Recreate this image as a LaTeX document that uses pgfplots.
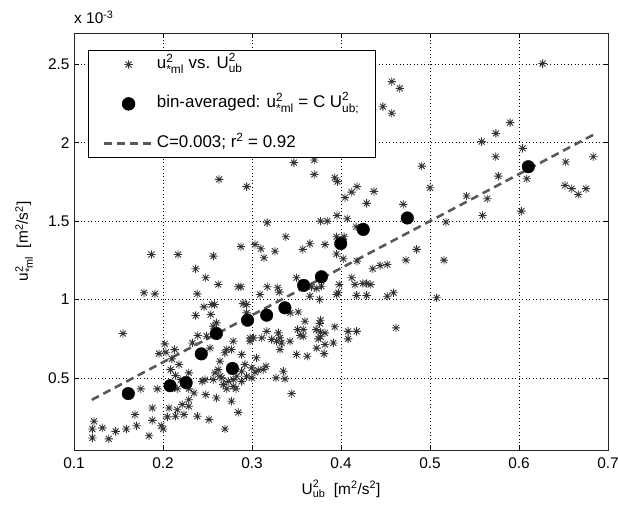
\documentclass[border=0pt]{standalone}
\usepackage{fontspec}
\setmainfont{Liberation Sans}
\usepackage{amsmath}
\usepackage{pgfplots}
\pgfplotsset{compat=1.18}

\pgfdeclareplotmark{ast8}{%
  \pgfpathmoveto{\pgfqpoint{-\pgfplotmarksize}{0pt}}\pgfpathlineto{\pgfqpoint{\pgfplotmarksize}{0pt}}%
  \pgfpathmoveto{\pgfqpoint{0pt}{-\pgfplotmarksize}}\pgfpathlineto{\pgfqpoint{0pt}{\pgfplotmarksize}}%
  \pgfpathmoveto{\pgfqpoint{-.7071\pgfplotmarksize}{-.7071\pgfplotmarksize}}\pgfpathlineto{\pgfqpoint{.7071\pgfplotmarksize}{.7071\pgfplotmarksize}}%
  \pgfpathmoveto{\pgfqpoint{-.7071\pgfplotmarksize}{.7071\pgfplotmarksize}}\pgfpathlineto{\pgfqpoint{.7071\pgfplotmarksize}{-.7071\pgfplotmarksize}}%
  \pgfusepathqstroke}

\pgfplotsset{
  marklegend/.style={legend image code/.code={\draw[##1, mark repeat=2, mark phase=2] plot coordinates {(0bp,0bp) (25bp,0bp) (50bp,0bp)};}},
  linelegend/.style={legend image code/.code={\draw[##1] (0bp,0bp) -- (50bp,0bp);}},
}

\newcommand{\fs}{\fontsize{15.5}{18}\selectfont}
\newcommand{\fl}{\fontsize{17}{20}\selectfont}
\newcommand{\uml}{$\text{u}^{\text{2}}_{\text{*ml}}$}
\newcommand{\Uub}{$\text{U}^{\text{2}}_{\text{ub}}$}

% scatter data: U_ub^2 [m2/s2], u_*ml^2 [1e-3 m2/s2]
\pgfplotstableread{
x y
0.155 0.783
0.202 0.717
0.1955 0.655
0.213 0.68
0.2367 0.898
0.246 0.953
0.2536 0.904
0.239 0.77
0.233 0.723
0.210 0.621
0.218 0.585
0.2086 0.553
0.229 0.532
0.214 0.515
0.22 0.489
0.175 0.43
0.1936 0.43
0.244 0.478
0.2348 0.404
0.248 0.393
0.229 0.361
0.2217 0.33
0.229 0.319
0.216 0.297
0.2067 0.308
0.2049 0.251
0.214 0.255
0.2236 0.266
0.2386 0.255
0.2517 0.234
0.188 0.308
0.1685 0.266
0.188 0.229
0.1704 0.195
0.1588 0.174
0.1468 0.159
0.1318 0.181
0.1225 0.223
0.1206 0.174
0.1206 0.117
0.139 0.111
0.1843 0.131
0.198 0.195
0.2003 0.174
0.216 0.43
0.229 0.43
0.2034 0.664
0.2547 0.968
0.249 0.766
0.187 1.287
0.2169 1.287
0.2566 1.277
0.2367 1.196
0.248 1.139
0.1787 1.043
0.191 1.036
0.2385 1.036
0.263 1.766
0.294 1.72
0.347 1.873
0.37 1.89
0.37 1.798
0.317 1.49
0.377 1.5
0.3846 1.5
0.338 1.40
0.2876 1.337
0.3034 1.351
0.31 1.324
0.3135 1.266
0.3258 1.308
0.357 1.32
0.365 1.356
0.382 1.351
0.2621 1.096
0.2846 1.081
0.2876 1.081
0.3172 1.081
0.3289 1.075
0.3307 1.047
0.309 1.032
0.35 1.139
0.367 1.08
0.3727 1.07
0.378 1.085
0.365 1.021
0.376 1.0
0.5157 1.251
0.485 1.32
0.5075 1.011
0.4618 0.819
0.452 1.021
0.459 1.043
0.4356 1.196
0.444 1.217
0.452 1.223
0.473 1.251
0.412 1.139
0.4157 1.096
0.4244 1.102
0.4288 1.102
0.4334 1.096
0.4176 1.026
0.4288 1.026
0.398 1.096
0.397 1.043
0.408 0.797
0.4176 0.797
0.408 0.749
0.393 0.826
0.3914 0.723
0.382 0.713
0.381 0.655
0.3727 0.69
0.362 0.638
0.377 0.868
0.376 0.847
0.377 0.791
0.377 0.762
0.3745 0.749
0.372 0.808
0.3596 0.861
0.3576 0.808
0.3576 0.766
0.395 1.29
0.4026 1.26
0.418 1.245
0.395 1.032
0.4908 1.851
0.5 1.713
0.393 1.777
0.396 1.752
0.418 1.72
0.412 1.685
0.4045 1.65
0.437 1.69
0.4288 1.613
0.47 1.607
0.3955 1.536
0.407 1.515
0.417 1.464
0.518 1.494
0.395 1.40
0.4035 1.40
0.457 2.39
0.466 2.347
0.447 2.23
0.457 2.188
0.6266 2.505
0.59 2.128
0.574 2.06
0.558 2.007
0.604 1.964
0.5738 1.911
0.6835 1.911
0.6525 1.877
0.5768 1.787
0.6087 1.77
0.541 1.66
0.5644 1.643
0.6517 1.728
0.6592 1.707
0.6666 1.67
0.6753 1.707
0.559 1.536
0.6027 1.564
0.258 0.968
0.29 0.974
0.294 0.968
0.294 0.915
0.26 0.851
0.2565 0.83
0.279 0.734
0.2716 0.681
0.277 0.681
0.2695 0.66
0.2528 0.69
0.264 0.606
0.262 0.553
0.2584 0.532
0.264 0.51
0.2884 0.649
0.292 0.585
0.2884 0.542
0.2978 0.755
0.3015 0.755
0.2978 0.734
0.311 0.755
0.3165 0.797
0.322 0.745
0.305 0.628
0.2997 0.564
0.3034 0.536
0.307 0.549
0.3127 0.553
0.3157 0.574
0.294 0.51
0.2997 0.5
0.2884 0.478
0.3296 0.787
0.3315 0.755
0.3277 0.734
0.3333 0.723
0.3315 0.681
0.3427 0.734
0.3513 0.808
0.354 0.77
0.382 0.787
0.35 0.649
0.3352 0.542
0.327 0.5
0.337 0.494
0.3446 0.4
0.2828 0.51
0.279 0.489
0.2734 0.478
0.2678 0.457
0.2716 0.43
0.279 0.446
0.282 0.43
0.266 0.5
0.2565 0.489
0.2472 0.489
0.26 0.372
0.277 0.351
0.2846 0.28
0.2697 0.174
0.343 0.915
0.352 0.92
}\scatterdata

\pgfplotstableread{
x y
0.161 0.40
0.208 0.45
0.226 0.47
0.243 0.653
0.260 0.783
0.278 0.56
0.295 0.868
0.3165 0.90
0.337 0.947
0.358 1.09
0.378 1.145
0.3997 1.357
0.425 1.447
0.4745 1.52
0.6105 1.847
}\bindata

\pgfplotstableread{
x y
0.12 0.36
0.685 2.055
}\fitdata

\begin{document}
\begin{tikzpicture}
\path[use as bounding box] (-74bp,-60bp) rectangle (544bp,450bp);
\begin{axis}[
  name=ax,
  at={(0,0)}, anchor=south west, scale only axis,
  width=534bp, height=417bp,
  xmin=0.1, xmax=0.7, ymin=0.04, ymax=2.7,
  xtick={0.1,0.2,0.3,0.4,0.5,0.6,0.7},
  xticklabels={0.1,0.2,0.3,0.4,0.5,0.6,0.7},
  ytick={0.5,1,1.5,2,2.5},
  yticklabels={0.5,1,1.5,2,2.5},
  tick align=inside, tick pos=both, major tick length=5bp,
  grid=major,
  grid style={black, line width=0.7bp, dash pattern=on 0.9bp off 2.6bp},
  axis line style={line width=0.8bp, black!85},
  tick style={black, line width=0.7bp},
  ticklabel style={font=\fs},
  xticklabel style={yshift=-4bp},
  yticklabel style={xshift=-1bp},
  label style={font=\fs},
  xlabel={\Uub\ \ [m$^{\text{2}}$/s$^{\text{2}}$]},
  ylabel={\uml\ \ [m$^{\text{2}}$/s$^{\text{2}}$]},
  xlabel style={at={(axis description cs:0.5,0)}, anchor=base, yshift=-44bp},
  ylabel style={at={(axis description cs:0,0.5)}, anchor=base, yshift=46bp},
  legend cell align=left,
  legend style={at={(axis description cs:0.026,0.959)}, anchor=north west,
    draw=black, line width=0.8bp, fill=white, font=\fl,
    nodes={text height=13bp, text depth=5bp},
    row sep=17.4bp, inner xsep=14bp, inner ysep=3bp,
    /tikz/every even column/.append style={column sep=4bp}},
]
\addplot[only marks, mark=ast8, mark size=4.2bp, draw=black!80, line width=0.85bp, marklegend]
  table[x=x,y=y] {\scatterdata};
\addlegendentry{\uml\ vs. \Uub}
\addplot[only marks, mark=*, mark size=6.3bp, draw=black, fill=black, marklegend]
  table[x=x,y=y] {\bindata};
\addlegendentry{bin-averaged: \uml\ = C $\text{U}^{\text{2}}_{\text{ub;}}$}
\addplot[no marks, draw=black!65, line width=2.6bp, dash pattern=on 8bp off 5bp, linelegend]
  table[x=x,y=y] {\fitdata};
\addlegendentry{C=0.003; r$^{\text{2}}$ = 0.92}
\end{axis}
\node[anchor=base west, inner sep=0pt, font=\fs] at ([yshift=9bp]ax.north west) {x 10$^{\text{-3}}$};
\end{tikzpicture}
\end{document}
